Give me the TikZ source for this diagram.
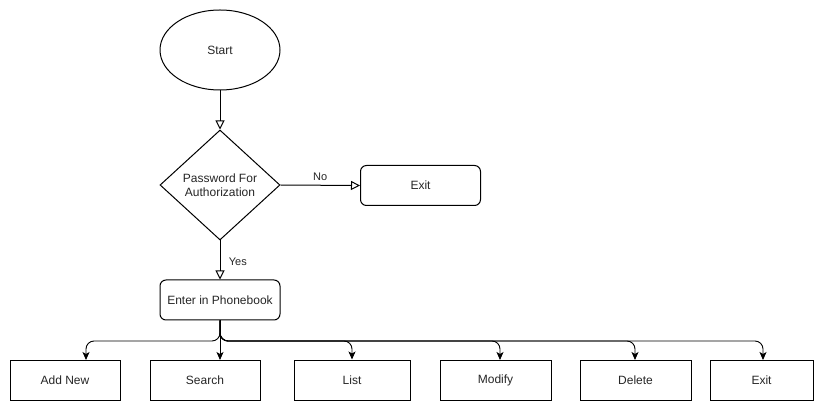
\documentclass[tikz,border=0pt]{standalone}
\usepackage{fontspec}
\setmainfont{Liberation Sans}
\usetikzlibrary{arrows.meta,shapes.geometric}
\begin{document}
\begin{tikzpicture}[x=1pt,y=-1pt,
  font=\fontsize{12}{14}\selectfont,
  every node/.style={text=black!85},
  shapebase/.style={draw=black,line width=1pt,inner sep=0pt,align=center},
  roundbox/.style={shapebase,rectangle,rounded corners=6pt,minimum width=120pt,minimum height=40pt},
  plainbox/.style={shapebase,rectangle,minimum height=40pt},
  flow/.style={draw=black,line width=1pt,-{Triangle[open,length=9pt,width=9pt]}},
  branch/.style={draw=black,line width=0.9pt,rounded corners=8pt,-{Stealth[length=8pt,width=7pt,inset=2pt]}},
  lbl/.style={font=\fontsize{11}{13}\selectfont}]
\useasboundingbox (0,0) rectangle (824,411);
\fill[white] (0,0) rectangle (824,411);

% top part
\node[shapebase,ellipse,minimum width=120pt,minimum height=80pt] (start) at (220,50) {Start};
\node[shapebase,diamond,minimum width=120pt,minimum height=110pt,aspect=1.09] (pw) at (220,185) {Password For\\Authorization};
\node[roundbox] (exit1) at (420.5,185.5) {Exit};
\node[roundbox] (enter) at (220,300) {Enter in Phonebook};

% menu row
\node[plainbox,minimum width=110pt] (add) at (65,380) {Add New};
\node[plainbox,minimum width=110pt] (search) at (205,380) {Search};
\node[plainbox,minimum width=116pt] (list) at (352,380) {List};
\node[plainbox,minimum width=111pt] (modify) at (495.5,380) {Modify};
\node[plainbox,minimum width=111pt] (delete) at (635.5,380) {Delete};
\node[plainbox,minimum width=103pt] (exit2) at (761.5,380) {Exit};

\coordinate (split) at (220,341);
\coordinate (addin) at (86,360);
\coordinate (searchin) at (220,360);
\coordinate (modin) at (500,360);
\coordinate (delin) at (635,360);
\coordinate (exitin) at (763,360);

% connectors
\draw[flow] (start.south) -- (pw.north);
\draw[flow] (pw.east) -- node[lbl,above=1pt,pos=0.5] {No} (exit1.west);
\draw[flow] (pw.south) -- node[lbl,right=5pt,pos=0.55] {Yes} (enter.north);

\draw[branch] (enter.south) -- (searchin);
\draw[branch] (enter.south) |- (split) -| (addin);
\draw[branch] (enter.south) |- (split) -| (list.north);
\draw[branch] (enter.south) |- (split) -| (modin);
\draw[branch] (enter.south) |- (split) -| (delin);
\draw[branch] (enter.south) |- (split) -| (exitin);
\end{tikzpicture}
\end{document}
